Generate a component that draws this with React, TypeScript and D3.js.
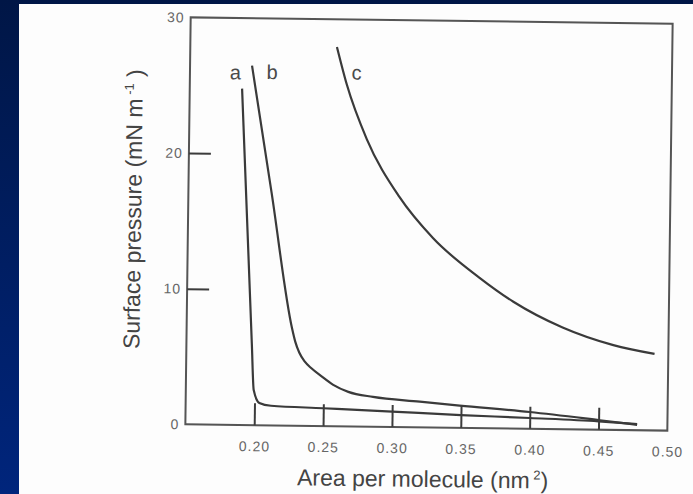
import React, { useEffect, useRef } from 'react'
import * as d3 from 'd3'

// isotherm a
const areaA = [0.188, 0.1975, 0.1993, 0.2035, 0.212, 0.25, 0.30, 0.35, 0.40, 0.45, 0.478]
const pressureA = [24.8, 6.0, 2.6, 1.65, 1.45, 1.32, 1.14, 0.95, 0.8, 0.62, 0.45]
// isotherm b
const areaB = [0.195, 0.2105, 0.2265, 0.229, 0.232, 0.236, 0.241, 0.248, 0.257, 0.268, 0.286, 0.32, 0.349, 0.40, 0.451, 0.478]
const pressureB = [26.5, 17.1, 7.2, 6.2, 5.4, 4.75, 4.25, 3.7, 3.05, 2.55, 2.2, 1.9, 1.65, 1.24, 0.7, 0.4]
// isotherm c
const areaC = [0.2565, 0.264, 0.279, 0.303, 0.328, 0.362, 0.387, 0.423, 0.46, 0.49]
const pressureC = [27.95, 25.2, 21.2, 17.0, 13.97, 11.1, 9.35, 7.5, 6.25, 5.64]

const curveNames = ['a', 'b', 'c']
const labelArea = [0.183, 0.2096, 0.271]
const labelPressure = [26.0, 26.05, 26.1]

const xTickLabels = [0.2, 0.25, 0.3, 0.35, 0.4, 0.45, 0.5]
const xTickMarks = [0.2, 0.25, 0.3, 0.35, 0.4, 0.45]
const yTickLabels = [0, 10, 20, 30]
const yTickMarks = [10, 20]

const width = 693
const height = 494

const App = () => {
    const chart = useRef<SVGSVGElement>(null)

    useEffect(() => {
        const svg = d3.select(chart.current)
        svg.selectAll('*').remove()

        // slide background
        const grad = svg.append('defs').append('linearGradient')
            .attr('id', 'bg').attr('x1', 0).attr('y1', 0).attr('x2', 0).attr('y2', 1)
        grad.append('stop').attr('offset', '0%').attr('stop-color', '#001646')
        grad.append('stop').attr('offset', '100%').attr('stop-color', '#00257c')
        svg.append('rect').attr('width', width).attr('height', height).attr('fill', 'url(#bg)')
        svg.append('rect').attr('x', 19).attr('y', 4).attr('width', width - 19).attr('height', height - 4)
            .attr('fill', '#fdfdfd')

        const left = 188, right = 670, top = 20.5, bottom = 427.5
        const x = d3.scaleLinear().domain([0.15, 0.5]).range([left, right])
        const y = d3.scaleLinear().domain([0, 30]).range([bottom, top])

        // the scan is a little tilted
        const g = svg.append('g').attr('transform', 'rotate(0.75, 429, 224)')
            .style('font-family', '"Liberation Sans", Arial, Helvetica, sans-serif')

        g.append('rect')
            .attr('x', left).attr('y', top)
            .attr('width', right - left).attr('height', bottom - top)
            .attr('fill', 'none').attr('stroke', '#555').attr('stroke-width', 2)

        // x ticks (inside) and labels
        const xMarks = g.append('g').attr('transform', `translate(0,${bottom})`)
            .call(d3.axisBottom(x).tickValues(xTickMarks).tickSize(-22).tickFormat(() => ''))
        const xLabels = g.append('g').attr('transform', `translate(0,${bottom})`)
            .call(d3.axisBottom(x).tickValues(xTickLabels).tickSize(0).tickPadding(16).tickFormat(d3.format('.2f')))
        const yMarks = g.append('g').attr('transform', `translate(${left},0)`)
            .call(d3.axisLeft(y).tickValues(yTickMarks).tickSize(-22).tickFormat(() => ''))
        const yLabels = g.append('g').attr('transform', `translate(${left},0)`)
            .call(d3.axisLeft(y).tickValues(yTickLabels).tickSize(0).tickPadding(6))

        ;[xMarks, xLabels, yMarks, yLabels].forEach(a => {
            a.select('.domain').remove()
            a.selectAll('line').attr('stroke', '#3c3c3c').attr('stroke-width', 2)
            a.selectAll('text')
                .attr('fill', '#666')
                .style('font-family', '"Liberation Sans", Arial, sans-serif')
                .style('font-size', '14px')
                .style('letter-spacing', '1px')
        })

        // curves
        const series = [
            areaA.map((v, i) => [v, pressureA[i]]),
            areaB.map((v, i) => [v, pressureB[i]]),
            areaC.map((v, i) => [v, pressureC[i]]),
        ] as [number, number][][]
        const line = d3.line<[number, number]>()
            .x(d => x(d[0]))
            .y(d => y(d[1]))
            .curve(d3.curveMonotoneX)
        g.append('g')
            .selectAll('path')
            .data(series)
            .join('path')
            .attr('d', d => line(d))
            .attr('fill', 'none')
            .attr('stroke', '#3a3a3a')
            .attr('stroke-width', 2.2)

        // curve names
        g.append('g')
            .selectAll('text')
            .data(curveNames)
            .join('text')
            .text(d => d)
            .attr('x', (d, i) => x(labelArea[i]))
            .attr('y', (d, i) => y(labelPressure[i]))
            .attr('dy', '0.35em')
            .attr('text-anchor', 'middle')
            .attr('fill', '#4a4a4a')
            .style('font-size', '20px')

        // x title
        const xt = g.append('text')
            .attr('x', 426).attr('y', 487)
            .attr('text-anchor', 'middle')
            .attr('fill', '#444')
            .style('font-size', '23px')
        xt.append('tspan').text('Area per molecule (nm')
        xt.append('tspan').text(' 2').attr('dy', -9).style('font-size', '13px')
        xt.append('tspan').text(')').attr('dy', 9)

        // y title
        const yt = g.append('text')
            .attr('transform', 'translate(141,213) rotate(-90)')
            .attr('text-anchor', 'middle')
            .attr('fill', '#444')
            .style('font-size', '23px')
        yt.append('tspan').text('Surface pressure (mN m')
        yt.append('tspan').text(' -1').attr('dy', -9).style('font-size', '13px')
        yt.append('tspan').text(' )').attr('dy', 9)
    }, [])

    return (
        <svg ref={chart} width={width} height={height}
            style={{ position: 'absolute', left: 0, top: 0, display: 'block' }}></svg>
    )
}

export default App
